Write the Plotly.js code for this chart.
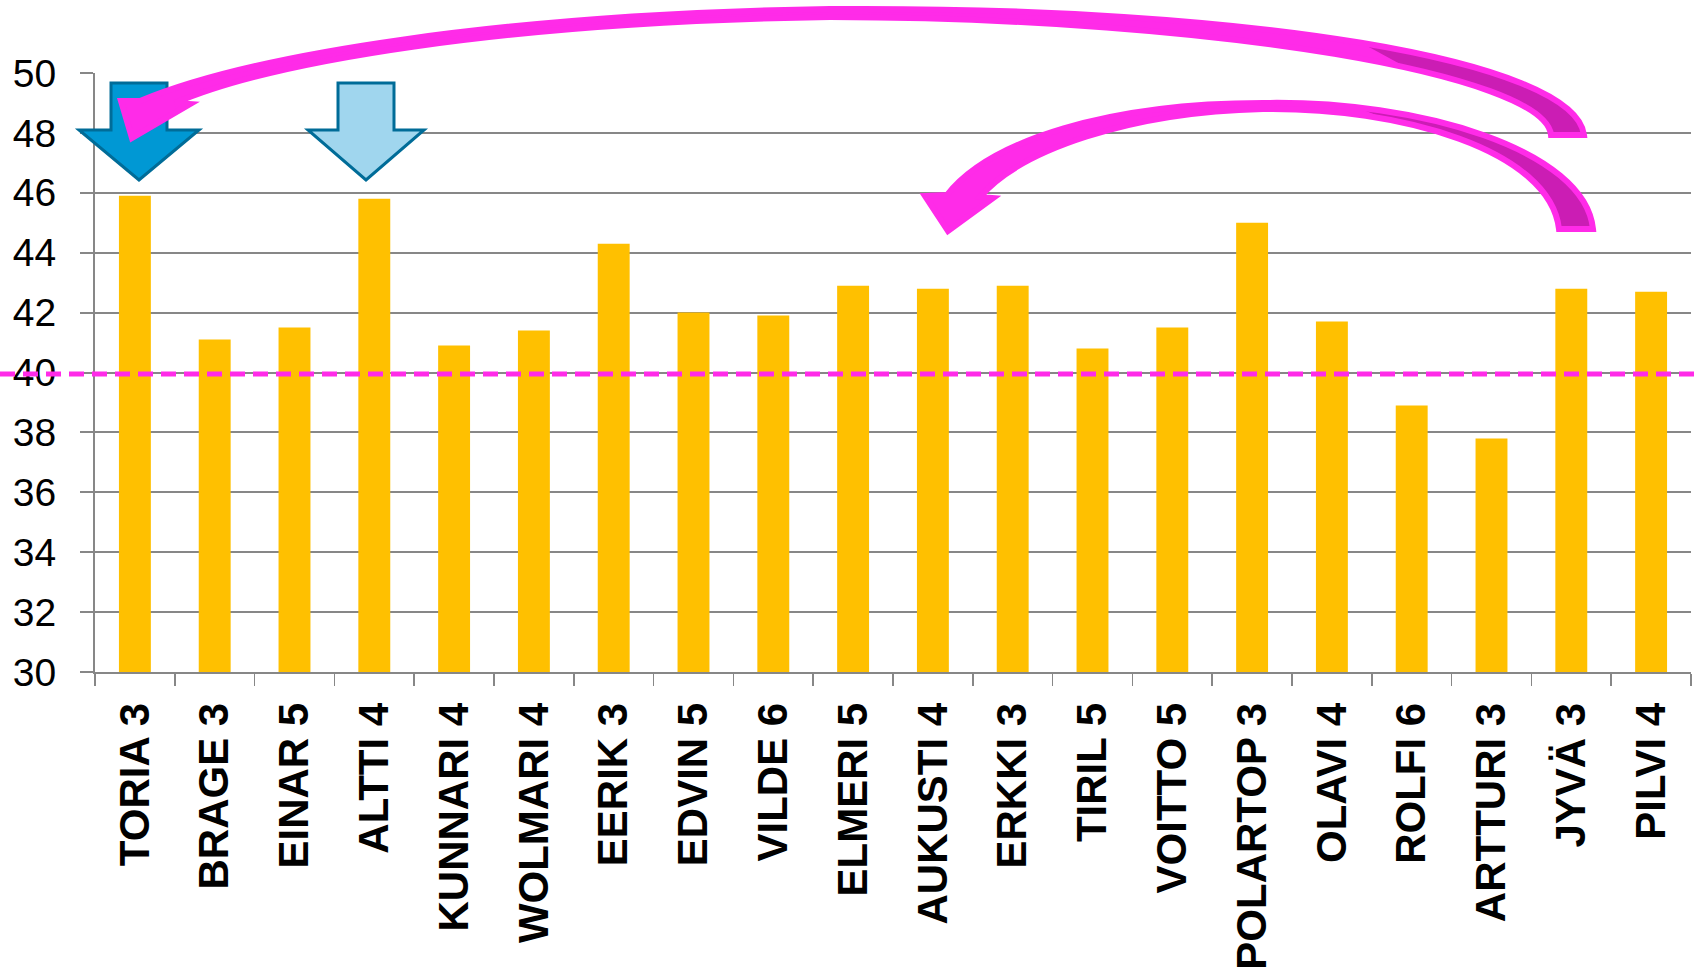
<!DOCTYPE html>
<html>
<head>
<meta charset="utf-8">
<script src="https://cdn.plot.ly/plotly-3.0.1.min.js"></script>
<style>html,body{margin:0;padding:0;background:#fff;}#chart{width:1702px;height:969px;}</style>
</head>
<body>
<div id="chart"></div>
<script>
// ---- data ----
const categories = ["TORIA 3","BRAGE 3","EINAR 5","ALTTI 4","KUNNARI 4","WOLMARI 4","EERIK 3","EDVIN 5","VILDE 6","ELMERI 5","AUKUSTI 4","ERKKI 3","TIRIL 5","VOITTO 5","POLARTOP 3","OLAVI 4","ROLFI 6","ARTTURI 3","JYVÄ 3","PILVI 4"];
const values = [45.9, 41.1, 41.5, 45.8, 40.9, 41.4, 44.3, 42.0, 41.9, 42.9, 42.8, 42.9, 40.8, 41.5, 45.0, 41.7, 38.9, 37.8, 42.8, 42.7];
const referenceLevel = 39.95;
const yTicks = [30,32,34,36,38,40,42,44,46,48,50];

// ---- layout geometry ----
const W = 1702, H = 969;
const M = {l: 95, r: 11, t: 73, b: 297};
const pw = W - M.l - M.r, ph = H - M.t - M.b;

// decoration paths given in page pixels, converted to paper coordinates
function deco(str) {
  const toks = str.trim().split(/[\s,]+/);
  let out = [], isX = true;
  for (const t of toks) {
    if (/^[A-Za-z]$/.test(t)) { out.push(t); isX = true; continue; }
    const v = parseFloat(t);
    if (isX) out.push(((v - M.l) / pw).toFixed(5));
    else out[out.length-1] += ',' + ((H - M.b - v) / ph).toFixed(5);
    isX = !isX;
  }
  return out.join(' ');
}

// sub-segment [t0,t1] of a cubic bezier (de Casteljau)
function lerp(a,b,t){return [a[0]+(b[0]-a[0])*t, a[1]+(b[1]-a[1])*t];}
function splitAt(c,t){
  const [p0,p1,p2,p3]=c;
  const a=lerp(p0,p1,t), b=lerp(p1,p2,t), d=lerp(p2,p3,t);
  const e=lerp(a,b,t), f=lerp(b,d,t), g=lerp(e,f,t);
  return [[p0,a,e,g],[g,f,d,p3]];
}
function sub(c,t0,t1){
  let right = splitAt(c,t0)[1];
  const tt = (t1-t0)/(1-t0);
  return splitAt(right, Math.min(1,tt))[0];
}
function cstr(c){return 'C '+c[1].join(' ')+' '+c[2].join(' ')+' '+c[3].join(' ');}

const gridCol = '#878787';
const magenta = '#FF2BE8';
const darkMagenta = '#CB1DB4';
const darkBlue = '#006C98';

// arrow 1 edges
const a1Outer1 = [[1584,135],[1575,60],[1250,6],[830,9]];
const a1Inner2 = [[830,17],[1220,18],[1545,75],[1551,135]];
const arrow1 = 'M 1584 135 ' + cstr(a1Outer1) + ' C 500 14 250 55 140 101 L 121 101 L 132 138 L 190 104 L 175 103 C 270 62 500 22 830 17 ' + cstr(a1Inner2) + ' Z';
const d1o = sub(a1Outer1, 0, 0.5), d1i = sub(a1Inner2, 0.6, 1);
const arrow1Dark = 'M ' + d1o[0].join(' ') + ' ' + cstr(d1o) + ' L ' + d1i[0].join(' ') + ' ' + cstr(d1i) + ' Z';

// arrow 2 edges
const a2Outer1 = [[1593,229],[1585,150],[1420,100],[1263,103]];
const a2Inner2 = [[1263,109],[1400,107],[1550,150],[1559,229]];
const arrow2 = 'M 1593 229 ' + cstr(a2Outer1) + ' C 1110 103 990 140 947 195 L 925 196 L 948 231 L 993 198 L 980 197 C 1020 150 1130 112 1263 109 ' + cstr(a2Inner2) + ' Z';
const d2o = sub(a2Outer1, 0, 0.8), d2i = sub(a2Inner2, 0.3, 1);
const arrow2Dark = 'M ' + d2o[0].join(' ') + ' ' + cstr(d2o) + ' L ' + d2i[0].join(' ') + ' ' + cstr(d2i) + ' Z';

const shapes = [
  // blue block arrows
  {type:'path', xref:'paper', yref:'paper', layer:'above',
   path: deco('M 111 83 L 167 83 L 167 130 L 199 130 L 139 180 L 79 130 L 111 130 Z'),
   fillcolor:'#0098D4', line:{color:darkBlue, width:3}},
  {type:'path', xref:'paper', yref:'paper', layer:'above',
   path: deco('M 338 83 L 394 83 L 394 130 L 424 130 L 366 180 L 308 130 L 338 130 Z'),
   fillcolor:'#A0D6EE', line:{color:darkBlue, width:3}},
  // dashed reference line
  {type:'line', xref:'paper', yref:'y', x0: -M.l/pw, x1: 1 + M.r/pw, y0: referenceLevel, y1: referenceLevel,
   layer:'above', line:{color:magenta, width:5, dash:'15px,8px'}},
  // big curved arrow
  {type:'path', xref:'paper', yref:'paper', layer:'above', path: deco(arrow1), fillcolor:magenta, line:{width:0}},
  {type:'path', xref:'paper', yref:'paper', layer:'above', path: deco(arrow1Dark), fillcolor:darkMagenta, line:{width:0}},
  {type:'path', xref:'paper', yref:'paper', layer:'above', path: deco(arrow1), fillcolor:'rgba(0,0,0,0)', line:{color:magenta, width:6}},
  // second curved arrow
  {type:'path', xref:'paper', yref:'paper', layer:'above', path: deco(arrow2), fillcolor:magenta, line:{width:0}},
  {type:'path', xref:'paper', yref:'paper', layer:'above', path: deco(arrow2Dark), fillcolor:darkMagenta, line:{width:0}},
  {type:'path', xref:'paper', yref:'paper', layer:'above', path: deco(arrow2), fillcolor:'rgba(0,0,0,0)', line:{color:magenta, width:6}}
];

const trace = {
  type:'bar', x: categories, y: values,
  marker:{color:'#FFC000'}, hoverinfo:'x+y'
};

const layout = {
  width: W, height: H,
  margin: M,
  paper_bgcolor:'#ffffff', plot_bgcolor:'#ffffff',
  showlegend:false,
  bargap:0.6,
  font:{family:'Liberation Sans, Arial, sans-serif', color:'#000'},
  xaxis:{
    type:'category',
    showline:true, linecolor:gridCol, linewidth:2,
    ticks:'outside', tickson:'boundaries', ticklen:12, tickwidth:1.5, tickcolor:gridCol,
    tickangle:-90,
    tickfont:{family:'Liberation Sans, Arial, sans-serif', size:42, weight:'bold', color:'#000'},
    ticklabelstandoff:12,
    showgrid:false
  },
  yaxis:{
    range:[30,50], tickvals:yTicks, ticktext:yTicks.map(String),
    showgrid:true, gridcolor:gridCol, gridwidth:2,
    showline:true, linecolor:gridCol, linewidth:2,
    ticks:'outside', ticklen:13, tickwidth:2, tickcolor:gridCol,
    tickfont:{family:'Liberation Sans, Arial, sans-serif', size:39, color:'#000'},
    ticklabelstandoff:16,
    zeroline:false
  },
  shapes: shapes
};

Plotly.newPlot('chart', [trace], layout, {displayModeBar:false, staticPlot:true});
</script>
</body>
</html>
